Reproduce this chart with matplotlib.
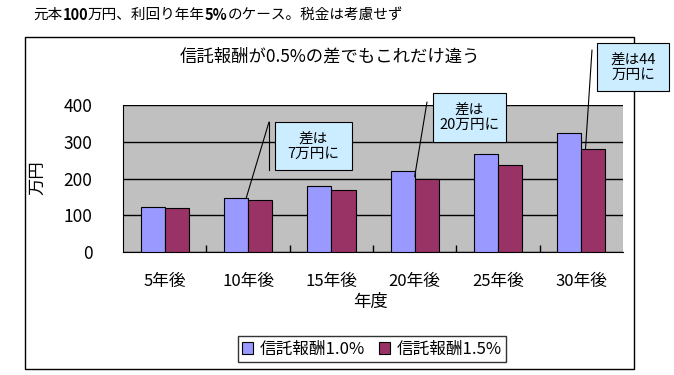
import numpy as np
import matplotlib.pyplot as plt
from matplotlib.patches import Rectangle
from matplotlib.lines import Line2D

plt.rcParams['font.family'] = ['Noto Sans CJK JP', 'DejaVu Sans']

years = ['5年後', '10年後', '15年後', '20年後', '25年後', '30年後']
fee_10 = [121.7, 148.0, 180.1, 219.1, 266.6, 324.3]
fee_15 = [118.8, 141.1, 167.5, 199.0, 236.3, 280.7]
series_names = ['信託報酬1.0%', '信託報酬1.5%']
blue = '#9999FF'
wine = '#993366'

W, H = 674, 375
fig = plt.figure(figsize=(W / 100, H / 100), dpi=100)


def fx(px):
    return px / W


def fy(py):
    # py measured from the top of the image
    return (H - py) / H


# outer chart frame
fig.patches.append(Rectangle((fx(25), fy(369)), fx(634 - 25), (369 - 37) / H,
                             transform=fig.transFigure, fill=False, edgecolor='black', lw=1))

ax = fig.add_axes([fx(123), fy(252), fx(500), 147 / H])
ax.set_facecolor('#C0C0C0')

x = np.arange(len(years))
w = 0.29
ax.bar(x - w / 2, fee_10, w, color=blue, edgecolor='black', lw=0.8, zorder=3)
ax.bar(x + w / 2, fee_15, w, color=wine, edgecolor='black', lw=0.8, zorder=3)

ax.set_xlim(-0.5, len(years) - 0.5)
ax.set_ylim(0, 400)
ax.set_yticks([0, 100, 200, 300, 400])
ax.yaxis.grid(True, color='black', lw=1, zorder=1)
ax.tick_params(axis='y', length=0, pad=22, labelsize=12.5)
ax.set_xticks(x)
ax.set_xticklabels(years)
ax.tick_params(axis='x', which='major', length=0, pad=15, labelsize=12)
ax.set_xticks(np.arange(0.5, len(years) - 1, 1), minor=True)
ax.tick_params(axis='x', which='minor', direction='in', length=5, width=1)
for s in ['top', 'right']:
    ax.spines[s].set_visible(False)

# heading above the chart, numbers in bold
title_parts = [('元本', 'normal'), ('100', 'bold'), ('万円、利回り年年', 'normal'),
               ('5%', 'bold'), ('のケース。税金は考慮せず', 'normal')]
renderer = fig.canvas.get_renderer()
xpos = 33
for txt, wt in title_parts:
    t = fig.text(fx(xpos), fy(15), txt, fontsize=10.5, fontweight=wt, va='center', ha='left')
    xpos += t.get_window_extent(renderer).width

fig.text(fx(330), fy(57), '信託報酬が0.5%の差でもこれだけ違う', fontsize=12.5, ha='center', va='center')
fig.text(fx(37), fy(178), '万円', fontsize=12.5, rotation=90, ha='center', va='center')
fig.text(fx(370), fy(302), '年度', fontsize=12.5, ha='center', va='center')

# callouts: (text, box left, top, right, bottom, line start, line end in data)
callouts = [('差は\n7万円に', 275, 122, 352, 170, (269, 122), (0.98, fee_10[1])),
            ('差は\n20万円に', 433, 93, 506, 142, (427, 102), (3.0, 205)),
            ('差は44\n万円に', 597, 43, 669, 91, (592, 50), (5.05, fee_15[5]))]
for label, l, t, r, b, start, end in callouts:
    ax.annotate('', xy=end, xycoords='data', xytext=(start[0], H - start[1]),
                textcoords='figure pixels',
                arrowprops=dict(arrowstyle='-', color='black', lw=0.8, shrinkA=0, shrinkB=0),
                annotation_clip=False, zorder=5)
    fig.patches.append(Rectangle((fx(l), fy(b)), fx(r - l), (b - t) / H,
                                 transform=fig.transFigure, fc='#CCECFF', ec='black',
                                 lw=0.8, zorder=6))
    fig.text(fx((l + r) / 2), fy((t + b) / 2), label, fontsize=10.5, ha='center',
             va='center', linespacing=1.15, zorder=7)
fig.lines.append(Line2D([fx(269), fx(269)], [fy(122), fy(170)],
                        transform=fig.transFigure, color='black', lw=0.8))

handles = [Rectangle((0, 0), 1, 1, fc=blue, ec='black', lw=0.8),
           Rectangle((0, 0), 1, 1, fc=wine, ec='black', lw=0.8)]
leg = fig.legend(handles, series_names, loc='center', bbox_to_anchor=(fx(372), fy(349)),
                 ncol=2, fontsize=12, frameon=True, fancybox=False, edgecolor='black',
                 handlelength=0.7, handleheight=0.7, handletextpad=0.4, columnspacing=0.8,
                 borderpad=0.25)
leg.get_frame().set_linewidth(1)

fig.savefig('out.png', dpi=100)
